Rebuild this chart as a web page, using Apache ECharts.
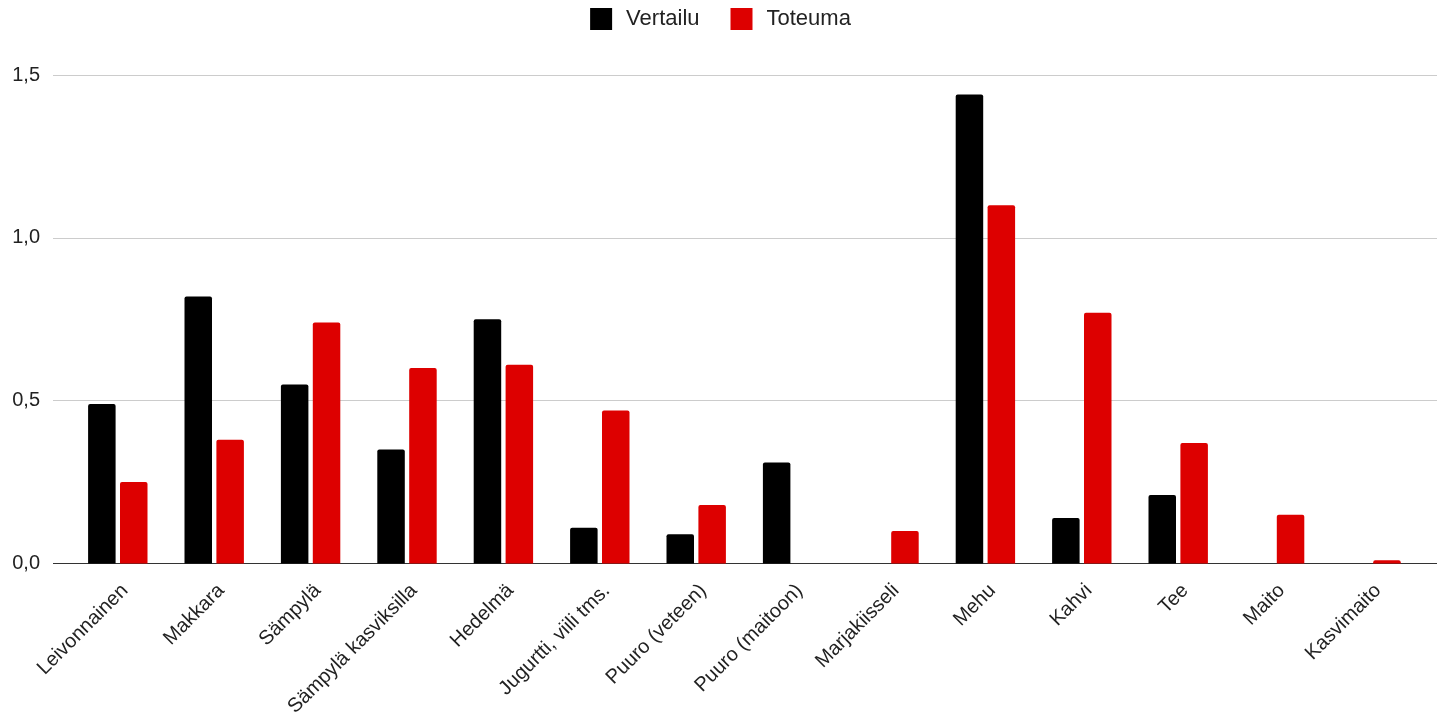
<!DOCTYPE html>
<html>
<head>
<meta charset="utf-8">
<script src="https://cdn.jsdelivr.net/npm/echarts@6/dist/echarts.min.js"></script>
<style>
html,body{margin:0;padding:0;background:#fff;}
#chart{width:1441px;height:725px;}
</style>
</head>
<body>
<div id="chart"></div>
<script>
const categories = ['Leivonnainen','Makkara','Sämpylä','Sämpylä kasviksilla','Hedelmä','Jugurtti, viili tms.','Puuro (veteen)','Puuro (maitoon)','Marjakiisseli','Mehu','Kahvi','Tee','Maito','Kasvimaito'];
const vertailu = [0.49,0.82,0.55,0.35,0.75,0.11,0.09,0.31,0,1.44,0.14,0.21,0,0];
const toteuma = [0.25,0.38,0.74,0.60,0.61,0.47,0.18,0,0.10,1.10,0.77,0.37,0.15,0.01];
const yTicks = [0, 0.5, 1.0, 1.5];

const FONT = 'Arial, "Liberation Sans", sans-serif';
const chart = echarts.init(document.getElementById('chart'));
chart.setOption({
  animation: false,
  textStyle: {fontFamily: FONT},
  legend: {
    top: 3,
    left: 'center',
    itemWidth: 22,
    itemHeight: 22,
    itemGap: 31,
    icon: 'rect',
    textStyle: {fontSize: 22, color: '#222', fontFamily: FONT, padding: [0,0,0,9], lineHeight: 22},
    data: ['Vertailu','Toteuma']
  },
  grid: [
    {left: 53, right: 4, top: 75, bottom: 161.5},
    {left: 69.6, right: 21.8, top: 75, bottom: 161.5}
  ],
  xAxis: [
    {gridIndex: 0, type: 'value', min: 0, max: 1, show: false},
    {
      gridIndex: 1, type: 'category', data: categories,
      axisLine: {show: false}, axisTick: {show: false},
      axisLabel: {rotate: 45, fontSize: 20, color: '#222', margin: 17, interval: 0, fontFamily: FONT, verticalAlign: 'top'}
    }
  ],
  yAxis: [
    {
      gridIndex: 0, type: 'value', min: yTicks[0], max: yTicks[yTicks.length-1], interval: 0.5,
      axisLine: {show: false}, axisTick: {show: false},
      axisLabel: {fontSize: 20, color: '#222', margin: 13, fontFamily: FONT,
        formatter: v => v.toFixed(1).replace('.', ',')},
      splitLine: {lineStyle: {color: ['#333','#ccc','#ccc','#ccc'], width: 1}}
    },
    {gridIndex: 1, type: 'value', min: 0, max: 1.5, interval: 0.5, show: false, splitLine: {show: false}}
  ],
  series: [
    {
      name: 'Vertailu', type: 'bar', xAxisIndex: 1, yAxisIndex: 1, data: vertailu,
      barWidth: 27.5, barGap: '16%',
      itemStyle: {color: '#000000', borderRadius: [2,2,0,0]}
    },
    {
      name: 'Toteuma', type: 'bar', xAxisIndex: 1, yAxisIndex: 1, data: toteuma,
      barWidth: 27.5, barGap: '16%',
      itemStyle: {color: '#dd0000', borderRadius: [2,2,0,0]}
    }
  ]
});
</script>
</body>
</html>
